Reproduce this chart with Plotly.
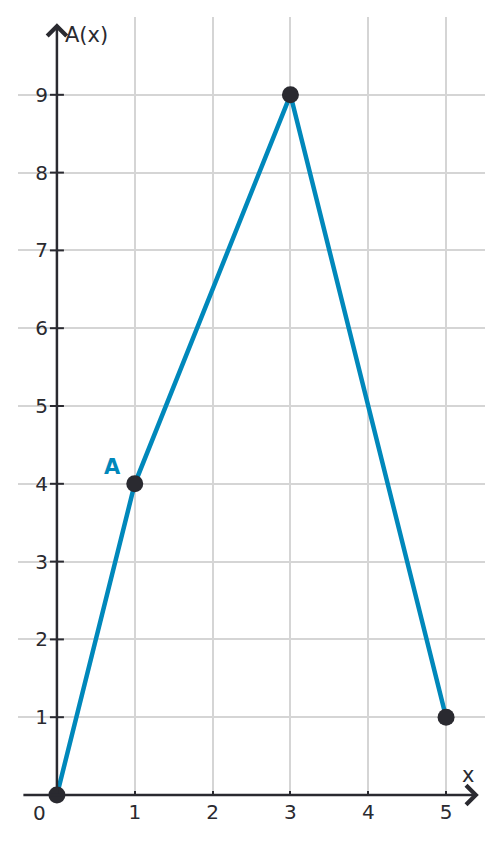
import plotly.graph_objects as go

# 折線資料
x_vals = [0, 1, 3, 5]
y_vals = [0, 4, 9, 1]

x_ticks = [1, 2, 3, 4, 5]
y_ticks = [0, 1, 2, 3, 4, 5, 6, 7, 8, 9]
y_tick_text = ["", "1", "2", "3", "4", "5", "6", "7", "8", "9"]
y_cross_ticks = [1, 2, 3, 4, 5, 6, 7, 8, 9]

point_label = "A"
point_label_at = (0.72, 4.22)

line_color = "#0088bb"
dark = "#2a2a30"
grid = "#d5d5d5"
font_family = "DejaVu Sans"

fig = go.Figure()

fig.add_trace(
    go.Scatter(
        x=x_vals,
        y=y_vals,
        mode="lines",
        line=dict(color=line_color, width=4.5),
        cliponaxis=False,
        hoverinfo="skip",
    )
)

# y 軸上的十字刻度
fig.add_trace(
    go.Scatter(
        x=[0] * len(y_cross_ticks),
        y=y_cross_ticks,
        mode="markers",
        marker=dict(symbol="line-ew", size=10, line=dict(color=dark, width=2)),
        cliponaxis=False,
        hoverinfo="skip",
    )
)

fig.add_trace(
    go.Scatter(
        x=x_vals,
        y=y_vals,
        mode="markers",
        marker=dict(color=dark, size=17),
        cliponaxis=False,
        hoverinfo="skip",
    )
)

# 座標軸箭頭
fig.add_annotation(
    x=5.42, y=0, ax=-0.45, ay=0, xref="x", yref="y", axref="x", ayref="y",
    showarrow=True, arrowhead=4, arrowsize=1.5, arrowwidth=2.5, arrowcolor=dark, text="",
)
fig.add_annotation(
    x=0, y=9.92, ax=0, ay=0, xref="x", yref="y", axref="x", ayref="y",
    showarrow=True, arrowhead=4, arrowsize=1.5, arrowwidth=2.5, arrowcolor=dark, text="",
)

fig.add_annotation(
    x=0.08, y=9.77, text="A(x)", showarrow=False, xanchor="left",
    font=dict(size=21, color=dark, family=font_family),
)
fig.add_annotation(
    x=5.28, y=0.26, text="x", showarrow=False,
    font=dict(size=21, color=dark, family=font_family),
)
fig.add_annotation(
    x=-0.22, y=0, yshift=-18, text="0", showarrow=False,
    font=dict(size=20, color=dark, family=font_family),
)
fig.add_annotation(
    x=point_label_at[0], y=point_label_at[1], text="<b>" + point_label + "</b>",
    showarrow=False, font=dict(size=21, color=line_color, family=font_family),
)

fig.update_layout(
    width=494,
    height=835,
    margin=dict(l=10, r=17, t=9, b=48),
    paper_bgcolor="white",
    plot_bgcolor="white",
    showlegend=False,
    font=dict(family=font_family, size=20, color=dark),
    xaxis=dict(
        range=[-0.5, 5.5],
        tickvals=x_ticks,
        showgrid=True,
        gridcolor=grid,
        gridwidth=1.5,
        zeroline=False,
        showline=False,
        ticks="inside",
        ticklen=4,
        tickwidth=2,
        tickcolor=dark,
        ticklabelstandoff=3,
        tickfont=dict(size=20, color=dark),
    ),
    yaxis=dict(
        range=[0, 10],
        tickvals=y_ticks,
        ticktext=y_tick_text,
        anchor="free",
        position=1 / 12,
        showgrid=True,
        gridcolor=grid,
        gridwidth=1.5,
        zeroline=False,
        showline=False,
        ticks="",
        ticklabelstandoff=9,
        tickfont=dict(size=20, color=dark),
    ),
)

fig.write_html("out.html")
